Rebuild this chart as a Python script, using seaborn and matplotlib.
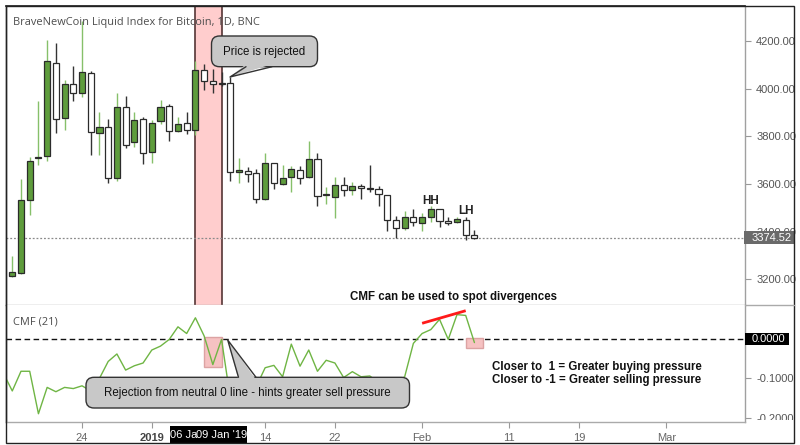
import numpy as np
import pandas as pd
import matplotlib
matplotlib.use("Agg")
import matplotlib.pyplot as plt
import matplotlib.dates as mdates
from matplotlib.patches import Rectangle, Polygon, FancyBboxPatch
from matplotlib.lines import Line2D
from matplotlib.transforms import IdentityTransform, Bbox
import seaborn as sns

# ---------------- data ----------------
candle_dates = pd.date_range("2018-12-16", "2019-02-07", freq="D")
opens = [3212, 3225, 3533, 3708, 3717, 4107, 3878, 4020, 3982, 4064,
         3815, 3839, 3624, 3925, 3776, 3874, 3735, 3864, 3929, 3822,
         3855, 3828, 4078, 4033, 4024, 4022, 3650, 3655, 3644, 3536,
         3686, 3600, 3628, 3658, 3628, 3703, 3553, 3547, 3596, 3575,
         3592, 3581, 3578, 3554, 3450, 3415, 3461, 3436, 3461, 3494,
         3441, 3439, 3450, 3385]
highs = [3296, 3620, 3712, 3950, 4203, 4190, 4036, 4096, 4283, 4075,
         3901, 3874, 3980, 3971, 3901, 3880, 3870, 3953, 3935, 3883,
         3901, 4117, 4105, 4082, 4068, 4050, 3711, 3670, 3661, 3728,
         3690, 3679, 3675, 3675, 3780, 3728, 3586, 3630, 3630, 3610,
         3600, 3679, 3592, 3555, 3464, 3485, 3494, 3478, 3508, 3495,
         3461, 3461, 3461, 3408]
lows = [3210, 3221, 3471, 3679, 3696, 3814, 3828, 3947, 3964, 3721,
        3721, 3603, 3614, 3749, 3755, 3683, 3689, 3850, 3780, 3818,
        3811, 3804, 3995, 3980, 4010, 3614, 3605, 3610, 3520, 3533,
        3578, 3595, 3568, 3600, 3625, 3508, 3517, 3457, 3550, 3553,
        3536, 3568, 3508, 3401, 3374, 3408, 3422, 3401, 3439, 3419,
        3429, 3435, 3364, 3370]
closes = [3229, 3533, 3697, 3715, 4117, 3874, 4020, 3982, 4068, 3818,
          3839, 3624, 3925, 3762, 3870, 3728, 3855, 3925, 3822, 3853,
          3828, 4078, 4033, 4020, 4020, 3651, 3658, 3640, 3536, 3686,
          3605, 3624, 3661, 3624, 3704, 3550, 3558, 3596, 3575, 3592,
          3582, 3579, 3557, 3450, 3415, 3461, 3439, 3461, 3494, 3443,
          3438, 3453, 3387, 3374.52]

cmf_dates = pd.date_range("2018-12-15", "2019-02-07", freq="D")
cmf_values = [-0.088, -0.132, -0.082, -0.082, -0.190, -0.123, -0.134, -0.123, -0.126, -0.119,
              -0.132, -0.100, -0.057, -0.038, -0.079, -0.068, -0.061, -0.028, -0.018, -0.001,
              0.031, 0.014, 0.054, 0.008, -0.065, -0.001, -0.150, -0.140, -0.130, -0.120,
              -0.073, -0.067, -0.096, -0.013, -0.069, -0.028, -0.082, -0.054, -0.061, -0.098,
              -0.083, -0.096, -0.094, -0.110, -0.110, -0.110, -0.096, -0.011, 0.014, 0.024,
              0.050, -0.001, 0.062, 0.060, -0.009]

price_ticks = [3200, 3400, 3600, 3800, 4000, 4200]
cmf_ticks = [0.0, -0.1, -0.2]
x_tick_dates = ["2018-12-24", "2019-01-01", "2019-01-14", "2019-01-22",
                "2019-02-01", "2019-02-11", "2019-02-19", "2019-03-01"]
x_tick_labels = ["24", "2019", "14", "22", "Feb", "11", "19", "Mar"]

highlight_span = ("2019-01-06", "2019-01-09")
cmf_boxes = [(("2019-01-07", "2019-01-09"), (-0.072, 0.006)),
             (("2019-02-06", "2019-02-08"), (-0.023, 0.002))]
divergence_line = (("2019-02-01", "2019-02-06"), (0.040, 0.072))
hh_date, lh_date = "2019-02-02", "2019-02-06"
date_flags = ["2019-01-06", "2019-01-09"]
date_flag_labels = ["06 Jan '19", "09 Jan '19"]

title = "BraveNewCoin Liquid Index for Bitcoin, 1D, BNC"

# ---------------- style ----------------
sns.set_theme(style="white")
plt.rcParams['font.family'] = ['Liberation Sans', 'DejaVu Sans']

W, H = 800, 445
fig = plt.figure(figsize=(W / 100, H / 100), dpi=100)
fig.patch.set_facecolor("white")


def fr(px, py):
    return px / W, 1 - py / H


ax1 = fig.add_axes([6 / W, (H - 305) / H, (745 - 6) / W, (305 - 6) / H])
ax2 = fig.add_axes([6 / W, (H - 422) / H, (745 - 6) / W, (422 - 305) / H])

x0 = mdates.date2num(pd.Timestamp("2018-12-15")) + 0.28
x1 = mdates.date2num(pd.Timestamp("2019-03-10")) + 0.03
for ax in (ax1, ax2):
    ax.set_xlim(x0, x1)
    ax.set_facecolor("white")
ax1.set_ylim(3092, 4347)
ax2.set_ylim(-0.211, 0.0865)

# ---------------- candles ----------------
xc = mdates.date2num(candle_dates)
o = np.array(opens, float)
c = np.array(closes, float)
hi = np.array(highs, float)
lo = np.array(lows, float)
up = c > o
GREEN = "#5e9c3c"
WICK_GREEN = "#86c06a"
ax1.vlines(xc[up], lo[up], hi[up], color=WICK_GREEN, lw=1.0, zorder=3)
ax1.vlines(xc[~up], lo[~up], hi[~up], color="#333333", lw=1.0, zorder=3)
body_h = np.maximum(np.abs(c - o), 5)
ax1.bar(xc, body_h, bottom=np.minimum(o, c), width=0.7,
        color=np.where(up, GREEN, "white"), edgecolor="#2b2b2b",
        linewidth=0.9, zorder=4)

# highlight band
hs, he = [mdates.date2num(pd.Timestamp(d)) for d in highlight_span]
ax1.axvspan(hs, he, color="#ffcdcd", zorder=1, lw=0)
ax1.axvline(hs, color="#553535", lw=1.2, zorder=2)
ax1.axvline(he, color="#553535", lw=1.2, zorder=2)

# last price dotted line
ax1.axhline(closes[-1], color="#8a8a8a", ls=(0, (1.5, 1.5)), lw=0.9, zorder=2)

# HH / LH
ax1.text(mdates.date2num(pd.Timestamp(hh_date)), 3530, "HH", ha="center", va="center",
         fontsize=8.5, fontweight="bold", color="#222", zorder=6)
ax1.text(mdates.date2num(pd.Timestamp(lh_date)), 3487, "LH", ha="center", va="center",
         fontsize=8.5, fontweight="bold", color="#222", zorder=6)

# ---------------- CMF ----------------
df = pd.DataFrame({"x": mdates.date2num(cmf_dates), "cmf": cmf_values})
sns.lineplot(data=df, x="x", y="cmf", ax=ax2, color="#6fb544", lw=1.0, zorder=3)
ax2.set_xlabel("")
ax2.set_ylabel("")
ax2.axhline(0, color="#111", lw=1.0, ls=(0, (4, 2.5)), zorder=2)
for (ds, de), (ylo, yhi) in cmf_boxes:
    a = mdates.date2num(pd.Timestamp(ds))
    b = mdates.date2num(pd.Timestamp(de))
    ax2.add_patch(Rectangle((a, ylo), b - a, yhi - ylo, fc="#f6c2c2", ec="#dca3a3",
                            lw=1.0, zorder=2))
(dl0, dl1), (vl0, vl1) = divergence_line
ax2.plot([mdates.date2num(pd.Timestamp(dl0)), mdates.date2num(pd.Timestamp(dl1))],
         [vl0, vl1], color="#ff1a1a", lw=2.0, zorder=4, solid_capstyle="butt")

# ---------------- axes styling ----------------
for ax in (ax1, ax2):
    ax.yaxis.tick_right()
    ax.grid(False)
    ax.spines['left'].set_color("#222")
    ax.spines['left'].set_linewidth(1.0)
    ax.spines['right'].set_color("#a0a0a0")
    ax.spines['right'].set_linewidth(1.0)
    ax.spines['bottom'].set_color("#aaaaaa")
    ax.spines['bottom'].set_linewidth(1.0)
ax1.spines['top'].set_color("#222")
ax2.spines['top'].set_visible(False)

ax1.set_yticks(price_ticks)
ax1.set_yticklabels([f"{v:.2f}" for v in price_ticks])
ax1.set_xticks([])
ax2.set_yticks(cmf_ticks)
# the 0 level is shown in the highlighted box instead of a plain tick label
ax2.set_yticklabels(["" if v == 0 else f"{v:.4f}" for v in cmf_ticks])
for ax in (ax1, ax2):
    ax.tick_params(axis='y', which='both', right=True, left=False, direction='out',
                   length=4, width=0.8, color="#999", labelsize=8, labelcolor="#555", pad=4)
xt = [mdates.date2num(pd.Timestamp(d)) for d in x_tick_dates]
ax2.set_xticks(xt)
ax2.set_xticklabels(x_tick_labels)
ax2.tick_params(axis='x', bottom=True, direction='out', length=4, width=0.8,
                color="#999", labelsize=8, labelcolor="#666", pad=4)
for lab in ax2.get_xticklabels():
    if lab.get_text() == "2019":
        lab.set_fontweight("bold")
        lab.set_color("#444")

# clip the bottom CMF tick label like the reference
clipbox = Bbox([[740, H - 420], [800, H - 305]])
for lab in ax2.get_yticklabels():
    lab.set_clip_box(clipbox)
    lab.set_clip_on(True)

# ---------------- figure-level decorations ----------------
ID = IdentityTransform()


def disp(px, py):
    return px, H - py


# outer frame & separators
fig.add_artist(Rectangle((6, H - 443), 788, 437, fill=False, ec="#222", lw=1.0,
                         transform=ID, zorder=60))
fig.add_artist(Line2D([745, 794], [H - 305, H - 305], color="#aaaaaa", lw=1.0,
                      transform=ID, zorder=60))

# title and indicator name
fig.text(*fr(13, 22), title, ha="left", va="center", fontsize=7.9, color="#4d4d4d",
         family=["Open Sans", "DejaVu Sans"])
fig.text(*fr(13, 322.5), "CMF (21)", ha="left", va="center", fontsize=7.9, color="#4d4d4d",
         family=["Open Sans", "DejaVu Sans"])

# price label on axis
yp = ax1.transData.transform((x0, closes[-1]))[1]
fig.add_artist(Rectangle((744, yp - 6.3), 50, 12.6, fc="#6a6a6a", ec="none",
                         transform=ID, zorder=45))
fig.text(752 / W, yp / H, f"{closes[-1]:.2f}", ha="left", va="center", fontsize=8,
         color="white", zorder=46)
# zero label on CMF axis
yz = ax2.transData.transform((x0, 0.0))[1]
fig.add_artist(Rectangle((745, yz - 6.2), 44, 12.4, fc="black", ec="none",
                         transform=ID, zorder=45))
fig.text(752 / W, yz / H, f"{0:.4f}", ha="left", va="center", fontsize=8,
         color="white", zorder=46)

# date flags on x axis (later flag drawn on top of the earlier one)
for k, (d, lab) in enumerate(zip(date_flags, date_flag_labels)):
    xd = ax2.transData.transform((mdates.date2num(pd.Timestamp(d)), 0))[0]
    fig.add_artist(Rectangle((xd - 25, H - 443), 50, 17, fc="black", ec="none",
                             transform=ID, zorder=47 + 2 * k))
    t = fig.text(xd / W, 1 - 434.5 / H, lab, ha="center", va="center", fontsize=8,
                 color="white", zorder=48 + 2 * k)
    if k == 0:
        # only the visible part of the first flag is shown in the reference
        t.set_clip_box(Bbox([[xd - 25, 0], [xd + 1.5, H]]))
        t.set_clip_on(True)


# callouts
def callout(text, box, tip, base, inward):
    bx0, by0, bx1, by1 = box
    fig.add_artist(FancyBboxPatch(disp(bx0, by1), bx1 - bx0, by1 - by0,
                                  boxstyle="round,pad=0,rounding_size=8",
                                  fc="#c8c8c8", ec="#333", lw=1.0,
                                  transform=ID, zorder=30))
    (b1x, b1y), (b2x, b2y) = base
    fig.add_artist(Polygon([disp(*tip), disp(b1x, b1y + inward), disp(b2x, b2y + inward)],
                           closed=True, fc="#c8c8c8", ec="none", transform=ID, zorder=31))
    fig.add_artist(Line2D([b1x, tip[0], b2x], [H - b1y, H - tip[1], H - b2y],
                          color="#333", lw=1.0, transform=ID, zorder=32))
    fig.text(*fr((bx0 + bx1) / 2, (by0 + by1) / 2 + 0.5), text, ha="center", va="center",
             fontsize=8.3, color="#111", zorder=33)


callout("Price is rejected", (211.5, 36, 317.5, 66.7), (230, 77),
        [(246, 66.7), (272, 66.7)], -2.5)
callout("Rejection from neutral 0 line - hints greater sell pressure",
        (86, 377.3, 409.5, 408), (227.7, 340),
        [(238.5, 377.3), (256, 377.3)], 2.5)

# explanatory texts
fig.text(*fr(453.5, 297), "CMF can be used to spot divergences", ha="center", va="center",
         fontsize=8.3, fontweight="bold", color="#111")
fig.text(*fr(491.5, 367), "Closer to  1 = Greater buying pressure", ha="left",
         va="center", fontsize=8.3, fontweight="bold", color="#111")
fig.text(*fr(491.5, 379.5), "Closer to -1 = Greater selling pressure", ha="left",
         va="center", fontsize=8.3, fontweight="bold", color="#111")

fig.savefig("out.png", dpi=100, facecolor="white")
